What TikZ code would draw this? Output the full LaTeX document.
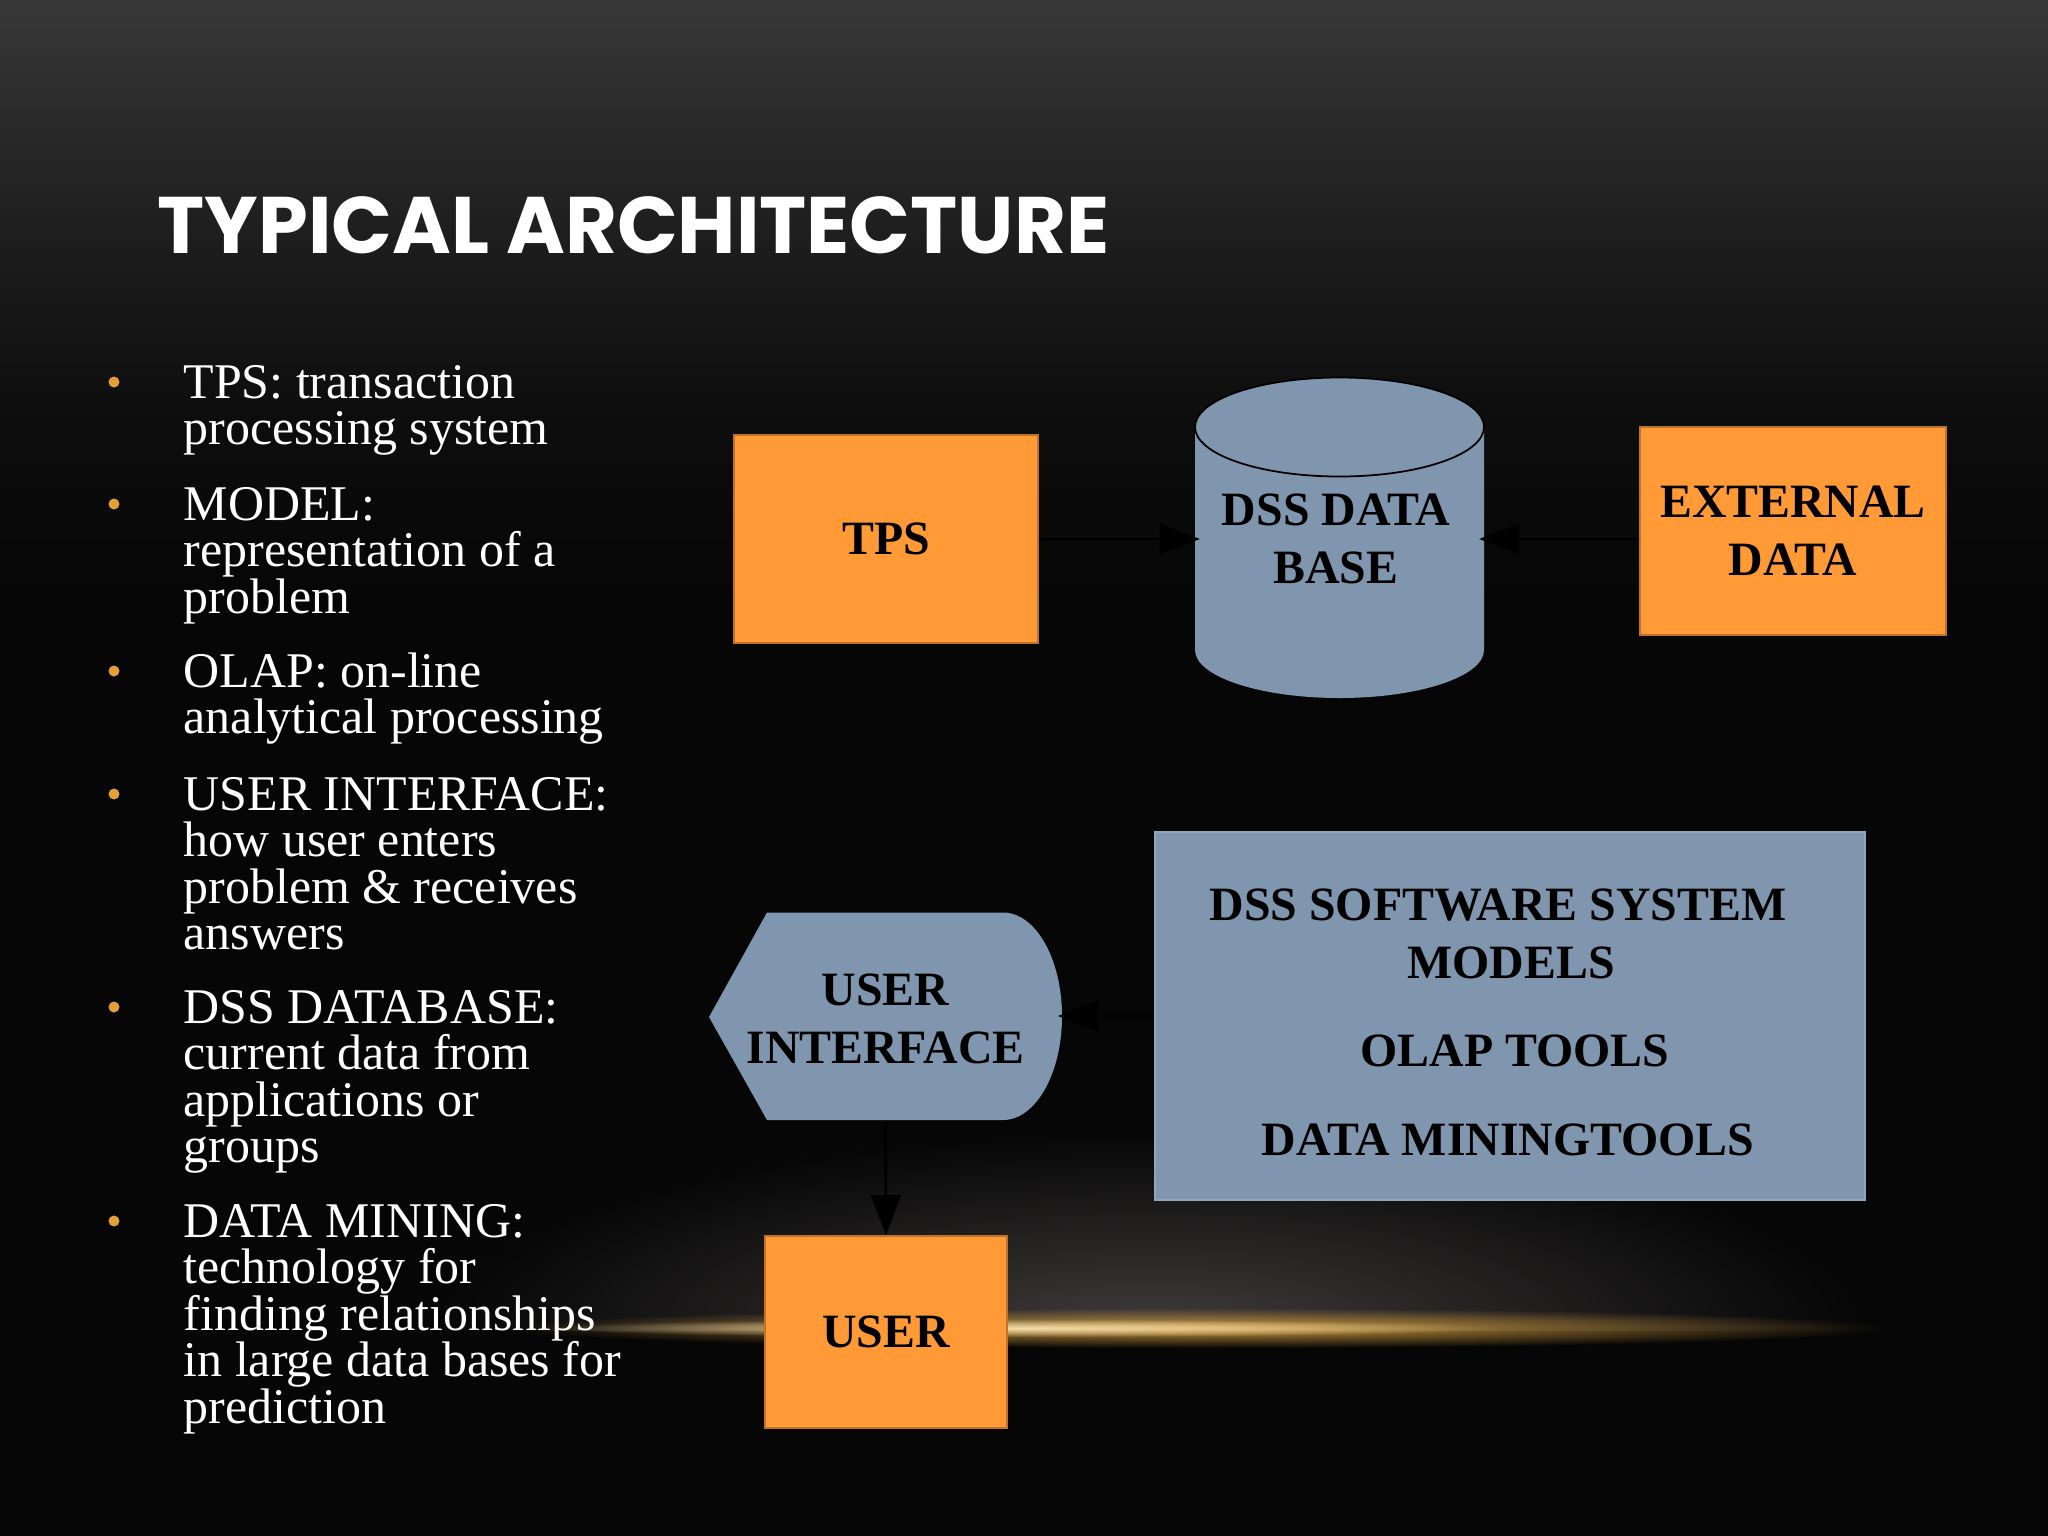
\documentclass[tikz,border=0pt]{standalone}
\usepackage{fontspec}
\usepackage{graphicx}
\setmainfont{Liberation Serif}
\newfontfamily\titlefont{Poppins}
\usetikzlibrary{arrows.meta,fadings}
\definecolor{orng}{HTML}{FF9A36}
\definecolor{slate}{HTML}{7F96AE}
\definecolor{bullc}{HTML}{E3A038}
\definecolor{bgA}{HTML}{383838}
\definecolor{bgB}{HTML}{2A2A2A}
\definecolor{bgC}{HTML}{1C1C1C}
\definecolor{bgD}{HTML}{0E0E0E}
\definecolor{bgbot}{HTML}{060606}
\definecolor{haze}{HTML}{403C3B}
\definecolor{goldA}{HTML}{C8963C}
\definecolor{goldB}{HTML}{F5DDA8}
\pgfdeclareverticalshading{bgshade}{100bp}{color(0bp)=(bgbot); color(25bp)=(bgbot); color(41.5bp)=(bgD); color(54bp)=(bgC); color(65bp)=(bgB); color(75bp)=(bgA); color(100bp)=(bgA)}
\tikzfading[name=fadeglow, inner color=transparent!0, outer color=transparent!100]
\newcommand\diagfont{\fontsize{13.6}{16.5}\selectfont\bfseries}
\newcommand\bulletfont{\fontsize{14.2}{13.2}\selectfont}
\newcommand\bitem[3]{%
  \fill[bullc] (114,{#2-16}) circle (5.5);
  \foreach \ln [count=\i from 0] in {#3}{\node[btext] (#1\i) at (183,{#2+\i*46.5}) {\ln};}%
}
\begin{document}
\begin{tikzpicture}[x=0.01cm,y=-0.01cm,
  btext/.style={anchor=base west, inner sep=0pt, text=white, font=\bulletfont},
  obox/.style={draw=orng!75!black, line width=0.5pt, fill=orng, inner sep=0pt, align=center, font=\diagfont},
  sbox/.style={draw=slate!85!white, line width=0.5pt, fill=slate, inner sep=0pt},
  dlabel/.style={anchor=base, inner sep=0pt, font=\diagfont},
  conn/.style={draw=black, line width=0.8pt, -{Triangle[length=0.4cm,width=0.3cm]}}]
\useasboundingbox (0,0) rectangle (2048,1536);
% background
\fill[bgbot] (0,0) rectangle (2048,1536);
\shade[shading=bgshade] (0,0) rectangle (2048,600);
% haze and golden line
\begin{scope}
  \clip (0,0) rectangle (2048,1330);
  \fill[haze, path fading=fadeglow] (1150,1330) ellipse (720 and 200);
\end{scope}
\fill[goldA, path fading=fadeglow] (1200,1328) ellipse (690 and 20);
\fill[goldB, path fading=fadeglow] (1020,1328) ellipse (480 and 9);
% title
\node[anchor=base west, inner sep=0pt, text=white] (title) at (157,253)
  {\resizebox{9.51cm}{\height}{\titlefont\bfseries\fontsize{22.8}{24}\selectfont TYPICAL ARCHITECTURE}};
% bullets
\bitem{bA}{398}{TPS: transaction,processing system}
\bitem{bB}{520}{MODEL:,representation of a,problem}
\bitem{bC}{687}{OLAP: on-line,analytical processing}
\bitem{bD}{810}{USER INTERFACE:,how user enters,problem \& receives,answers}
\bitem{bE}{1023}{DSS DATABASE:,current data from,applications or,groups}
\bitem{bF}{1237}{DATA MINING:,technology for,finding relationships,in large data bases for,prediction}
% TPS
\node[obox, minimum width=3.04cm, minimum height=2.08cm] (tps) at (886,539) {TPS};
% external data
\node[obox, minimum width=3.06cm, minimum height=2.08cm] (ext) at (1793,531) {EXTERNAL\\DATA};
% DSS data base cylinder
\fill[slate] (1195,427) -- (1195,650) arc[start angle=180, end angle=0, x radius=144.5, y radius=48]
  -- (1484,427) arc[start angle=0, end angle=-180, x radius=144.5, y radius=49.5] -- cycle;
\draw[black, line width=0.5pt] (1339.5,427) ellipse (144.5 and 49.5);
\node[inner sep=0pt, align=center, font=\diagfont, minimum width=2.89cm, minimum height=2.23cm] (db) at (1336,538.5) {DSS DATA\\BASE};
% software system
\node[sbox, minimum width=7.10cm, minimum height=3.68cm] (sw) at (1510,1016) {};
\node[dlabel] (sw1) at (1498,920) {DSS SOFTWARE SYSTEM};
\node[dlabel] (sw2) at (1511,978) {MODELS};
\node[dlabel] (sw3) at (1515,1066) {OLAP TOOLS};
\node[dlabel] (sw4) at (1508,1155) {DATA MININGTOOLS};
% user interface (display shape)
\fill[slate] (709,1017) -- (767,912.5) -- (1003,912.5)
  arc[start angle=-90, end angle=90, x radius=59, y radius=103.75] -- (767,1120) -- cycle;
\node[inner sep=0pt, align=center, font=\diagfont, minimum width=3.53cm, minimum height=2.075cm] (ui) at (885.5,1019) {USER\\INTERFACE};
% user
\node[obox, minimum width=2.42cm, minimum height=1.92cm] (user) at (886,1332) {USER};
% connectors
\draw[conn, shorten >=-0.05cm] (tps.east) -- (1195,539);
\draw[conn, shorten >=-0.05cm] (ext.west |- tps.east) -- (1484,539);
\draw[conn, shorten >=-0.05cm] (sw.west) -- (ui.east |- sw.west);
\draw[conn] (ui.south) -- (user.north);
\end{tikzpicture}
\end{document}
